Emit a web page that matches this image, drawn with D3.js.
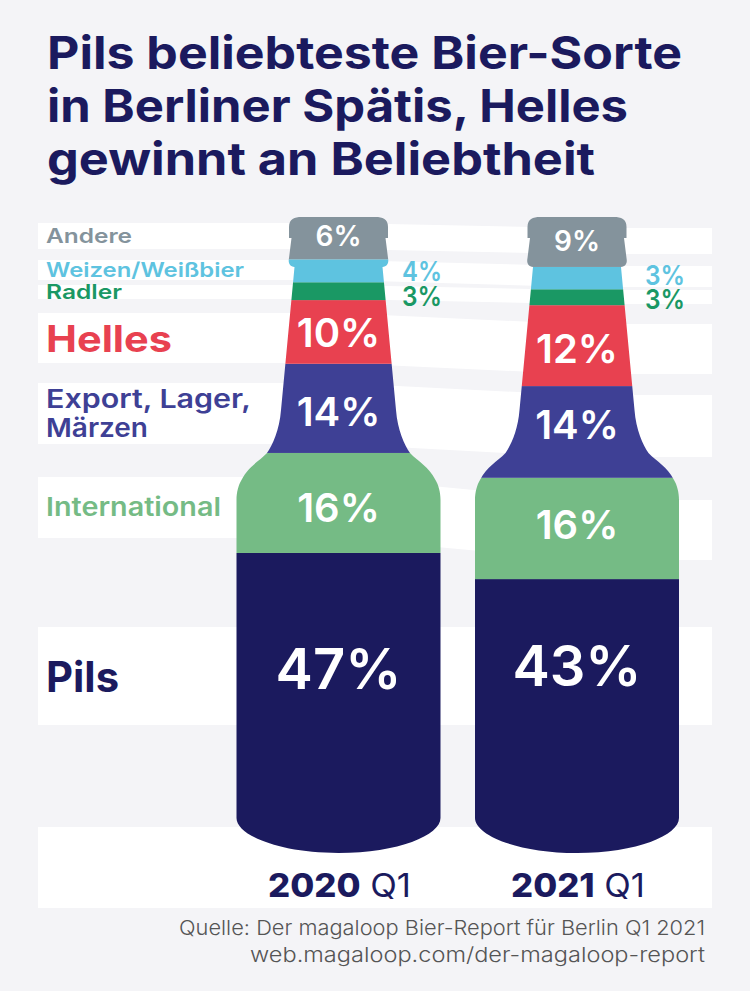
<!DOCTYPE html>
<html lang="de">
<head>
    <meta charset="UTF-8">
    <title>Pils beliebteste Bier-Sorte</title>
    <script src="https://d3js.org/d3.v7.min.js"></script>
    <style>
        html, body { margin: 0; padding: 0; background: #f4f4f7; }
        svg { display: block; }
        text { font-family: "Inter", sans-serif; }
    </style>
</head>
<body>
<svg width="750" height="991"></svg>
<script>
    // bottom to top, the order of the stack
    var categories = ["Pils", "International", "Export, Lager, Märzen", "Helles", "Radler", "Weizen/Weißbier", "Andere"];
    var years = ["2020", "2021"];
    // share of the bottle height as measured, the printed labels are rounded
    var shares2020 = [47.1, 15.7, 14.0, 10.0, 2.8, 3.6, 6.8];
    var shares2021 = [43.0, 15.9, 14.4, 12.7, 2.5, 3.5, 8.0];
    var labels2020 = ["47%", "16%", "14%", "10%", "3%", "4%", "6%"];
    var labels2021 = ["43%", "16%", "14%", "12%", "3%", "3%", "9%"];
    var colors = ["#1b1a5e", "#75bb85", "#3e4095", "#e84150", "#1a9864", "#5ec3e0", "#84939c"];

    var titleLines = ["Pils beliebteste Bier-Sorte", "in Berliner Spätis, Helles", "gewinnt an Beliebtheit"];
    var sourceLines = ["Quelle: Der magaloop Bier-Report für Berlin Q1 2021", "web.magaloop.com/der-magaloop-report"];

    var svg = d3.select("svg");

    var x = d3.scalePoint().domain(years).range([338.5, 577]);
    var y = d3.scaleLinear().domain([0, 100]).range([853, 216]);

    // white bands that run behind the bottles: top/bottom left, top/bottom right
    var bands = [
        [627, 725, 627, 725],
        [477, 538, 500, 560],
        [383, 444, 395, 457],
        [313, 363, 324, 374],
        [285, 299, 290, 304],
        [260, 280, 266, 287],
        [223, 249, 228, 254]
    ];
    var bandArea = d3.area().x(function(d) { return d[0]; }).y0(function(d) { return d[1]; }).y1(function(d) { return d[2]; });

    svg.append("g").selectAll("path").data(bands).enter().append("path")
        .attr("fill", "#fff")
        .attr("d", function(b) {
            return bandArea([[38, b[0], b[1]], [x("2020"), b[0], b[1]], [x("2021"), b[2], b[3]], [712, b[2], b[3]]]);
        });
    svg.append("rect").attr("x", 38).attr("y", 827).attr("width", 674).attr("height", 81).attr("fill", "#fff");

    // right half of the bottle from the top down, [half width, y] with cubic
    // controls in front where the piece is curved
    var outline = [
        [37, 217],
        [44, 217, 49.5, 219, 49.5, 227],
        [49.5, 238],
        [47, 238],
        [49.5, 258],
        [50.5, 263, 49, 266, 44, 267],
        [57.5, 410],
        [59, 430, 66, 445, 71.5, 453],
        [80, 462, 90, 466, 97, 480],
        [100, 485, 102, 492, 102, 500],
        [102, 818],
        [102, 835, 60, 853, 0, 853]
    ];

    function bottlePath(cx) {
        var p = d3.path();
        p.moveTo(cx, 217);
        outline.forEach(function(s) {
            if (s.length === 2) p.lineTo(cx + s[0], s[1]);
            else p.bezierCurveTo(cx + s[0], s[1], cx + s[2], s[3], cx + s[4], s[5]);
        });
        // back up the left side, same pieces in reverse
        for (var i = outline.length - 1; i >= 0; i--) {
            var s = outline[i];
            var prev = i > 0 ? outline[i - 1].slice(-2) : [0, 217];
            if (s.length === 2) p.lineTo(cx - prev[0], prev[1]);
            else p.bezierCurveTo(cx - s[2], s[3], cx - s[0], s[1], cx - prev[0], prev[1]);
        }
        p.closePath();
        return p.toString();
    }

    var defs = svg.append("defs");
    years.forEach(function(year) {
        defs.append("clipPath").attr("id", "bottle" + year)
            .append("path").attr("d", bottlePath(x(year)));
    });

    // stacked segments, cut to the bottle
    [shares2020, shares2021].forEach(function(shares, i) {
        var year = years[i];
        var tops = Array.from(d3.cumsum(shares));
        svg.append("g").attr("clip-path", "url(#bottle" + year + ")")
            .selectAll("rect").data(shares).enter().append("rect")
            .attr("x", x(year) - 110)
            .attr("width", 220)
            .attr("y", function(d, j) { return y(tops[j]) - (j === 6 ? 5 : 0); })
            .attr("height", function(d, j) { return y(tops[j] - d) - y(tops[j]) + (j === 6 ? 5 : 0); })
            .attr("fill", function(d, j) { return colors[j]; });
    });

    // percent labels sit in the middle of the bands, not the segments
    var labelSize = [56, 40, 40, 40, 27, 27, 28];
    var labelNudge = [[-7, 0, -2, -5, 0, 0, 0], [-10, -5, -1, 0, 0, 0, 0]];
    [labels2020, labels2021].forEach(function(labels, i) {
        var year = years[i];
        labels.forEach(function(label, j) {
            var b = bands[j];
            var mid = (i === 0 ? b[0] + b[1] : b[2] + b[3]) / 2;
            if (j === 4 || j === 5) {
                // too narrow for the neck, these go beside the bottle
                svg.append("text")
                    .attr("x", x(year) + (i === 0 ? 63.5 : 68))
                    .attr("y", (i === 0 ? [306, 281] : [309, 285])[j - 4])
                    .attr("font-size", labelSize[j])
                    .attr("font-weight", 600)
                    .attr("fill", colors[j])
                    .attr("textLength", 40)
                    .attr("lengthAdjust", "spacingAndGlyphs")
                    .text(label);
            } else {
                svg.append("text")
                    .attr("x", x(year))
                    .attr("y", mid + labelSize[j] * 0.35 + labelNudge[i][j])
                    .attr("text-anchor", "middle")
                    .attr("font-size", labelSize[j])
                    .attr("font-weight", 600)
                    .attr("fill", "#fff")
                    .text(label);
            }
        });
    });

    // category names on the left
    var nameLayout = [
        {i: 0, y: 692, size: 42, weight: 700, width: 73},
        {i: 1, y: 516, size: 26, weight: 600, width: 175},
        {i: 3, y: 352, size: 37, weight: 700, width: 126},
        {i: 4, y: 299, size: 20, weight: 600, width: 76},
        {i: 5, y: 277, size: 20, weight: 600, width: 198},
        {i: 6, y: 243, size: 20, weight: 600, width: 86}
    ];
    nameLayout.forEach(function(n) {
        svg.append("text").attr("x", 46).attr("y", n.y)
            .attr("font-size", n.size).attr("font-weight", n.weight)
            .attr("fill", colors[n.i])
            .attr("textLength", n.width).attr("lengthAdjust", "spacingAndGlyphs")
            .text(categories[n.i]);
    });
    // this one needs two lines
    var exportLines = ["Export, Lager,", "Märzen"];
    svg.append("text").attr("x", 46).attr("y", 408).attr("font-size", 26).attr("font-weight", 600)
        .attr("fill", colors[2]).attr("textLength", 205).attr("lengthAdjust", "spacingAndGlyphs").text(exportLines[0]);
    svg.append("text").attr("x", 46).attr("y", 437).attr("font-size", 26).attr("font-weight", 600)
        .attr("fill", colors[2]).attr("textLength", 102).attr("lengthAdjust", "spacingAndGlyphs").text(exportLines[1]);

    // year labels under the bottles
    var yearWidths = [143, 134];
    years.forEach(function(year, i) {
        var t = svg.append("text").attr("x", x(year) + 1).attr("y", 897)
            .attr("text-anchor", "middle").attr("font-size", 32).attr("fill", colors[0])
            .attr("textLength", yearWidths[i]).attr("lengthAdjust", "spacingAndGlyphs");
        t.append("tspan").attr("font-weight", 800).text(year);
        t.append("tspan").attr("font-weight", 400).text(" Q1");
    });

    // title
    var titleWidths = [635, 581, 548];
    var titleBase = [69, 122, 175];
    svg.append("g").selectAll("text").data(titleLines).enter().append("text")
        .attr("x", 47)
        .attr("y", function(d, i) { return titleBase[i]; })
        .attr("font-size", 45)
        .attr("font-weight", 700)
        .attr("fill", colors[0])
        .attr("textLength", function(d, i) { return titleWidths[i]; })
        .attr("lengthAdjust", "spacingAndGlyphs")
        .text(function(d) { return d; });

    // source
    var sourceWidths = [526, 455];
    svg.append("g").selectAll("text").data(sourceLines).enter().append("text")
        .attr("x", 705)
        .attr("y", function(d, i) { return 935 + i * 27; })
        .attr("text-anchor", "end")
        .attr("font-size", 20.5)
        .attr("font-weight", 300)
        .attr("fill", "#555")
        .attr("textLength", function(d, i) { return sourceWidths[i]; })
        .attr("lengthAdjust", "spacingAndGlyphs")
        .text(function(d) { return d; });
</script>
</body>
</html>
